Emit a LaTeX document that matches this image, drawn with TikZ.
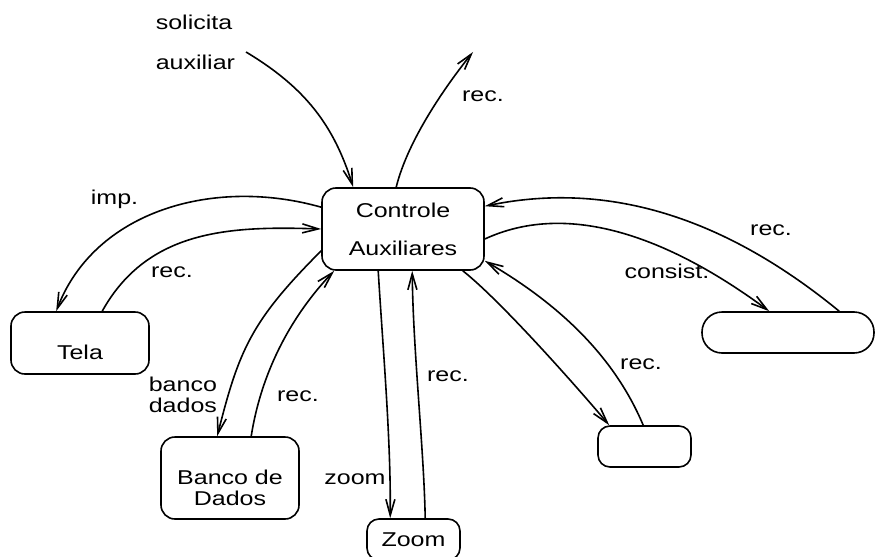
\documentclass[tikz,border=0pt]{standalone}
\usepackage{fontspec}
\newfontfamily\diagfont[FakeStretch=1.25]{Liberation Sans}
\usetikzlibrary{arrows.meta,calc}

\begin{document}
\begin{tikzpicture}[x=0.5pt, y=-0.5pt, thick, >={Straight Barb[length=8pt,width=4.5pt]},
  proc node/.style={rectangle,draw,rounded corners=7pt,align=center,inner sep=0pt,font=\diagfont},
  lbl node/.style={font=\diagfont,inner sep=0pt}]
\useasboundingbox (0,0) rectangle (876,556);
\begin{scope}
\node[proc node, minimum width=81pt, minimum height=41pt] (ctrl) at (403,229) {Controle\\[7pt]Auxiliares};
\node[proc node, minimum width=69pt, minimum height=31pt, text height=17pt] (tela) at (80,343) {Tela};
\node[proc node, minimum width=69pt, minimum height=41pt, text height=27.2pt] (banco) at (230,478) {Banco de\\[-1.5pt]Dados};
\node[proc node, minimum width=46.5pt, minimum height=20.5pt, rounded corners=6pt] (zoom) at (413.5,539.5) {Zoom};
\node[proc node, minimum width=46.5pt, minimum height=20.5pt, rounded corners=6pt] (caixa) at (644.5,446.5) {};
\node[proc node, minimum width=86pt, minimum height=20.5pt, rounded corners=10pt] (oval) at (788,332.5) {};
\coordinate (src) at (246,52);
\coordinate (dst) at (473,52);
\end{scope}
\begin{scope}[every node/.style={lbl node}]
\node[anchor=west, align=left] (lsol) at (155,42) {solicita\\[8pt]auxiliar};
\node (lrec1) at (483,96) {rec.};
\node (limp) at (114.5,199) {imp.};
\node (lrec2) at (172,272) {rec.};
\node[anchor=west, align=left] (lbanco) at (148,395) {banco\\[-1.5pt]dados};
\node (lrec3) at (298,396) {rec.};
\node (lzoom) at (355,479) {zoom};
\node (lrec4) at (448,376) {rec.};
\node (lrec5) at (771,230) {rec.};
\node (lcons) at (667,271) {consist.};
\node (lrec6) at (641,364) {rec.};
\end{scope}
\begin{scope}
\draw[->] (src) .. controls (306,88) and (334,126) .. ($(ctrl.north west)+(32,0)$);
\draw[->] ($(ctrl.north west)+(75,0)$) .. controls (408,139) and (448,83) .. (dst);
\draw[->] ($(ctrl.north west)+(0,20)$) .. controls (215,177) and (95,210) .. ($(tela.north west)+(46,0)$);
\draw[->] ($(tela.north west)+(92,0)$) .. controls (148,229) and (231,226) .. (ctrl.west);
\draw[->] ($(ctrl.south west)+(0,-20)$) .. controls (251,321) and (239,350) .. ($(banco.north west)+(57,0)$);
\draw[->] ($(banco.north west)+(91,0)$) .. controls (262,368) and (294,313) .. ($(ctrl.south west)+(13,0)$);
\draw[->] ($(ctrl.south west)+(57,0)$) .. controls (383,350) and (391,440) .. ($(zoom.north west)+(24,0)$);
\draw[->] ($(zoom.north west)+(59,0)$) .. controls (424,450) and (413,350) .. ($(ctrl.south west)+(91,0)$);
\draw[->] ($(oval.north west)+(138,0)$) .. controls (717,211) and (600,182) .. ($(ctrl.north east)+(0,19)$);
\draw[->] ($(ctrl.east)+(0,10)$) .. controls (580,195) and (689,252) .. ($(oval.north west)+(68,0)$);
\draw[->] ($(ctrl.south east)+(-22,0)$) .. controls (501,301) and (577,387) .. ($(caixa.north west)+(12,0)$);
\draw[->] ($(caixa.north west)+(46,0)$) .. controls (612,351) and (552,300) .. ($(ctrl.south east)+(0,-10)$);
\end{scope}
\end{tikzpicture}
\end{document}
